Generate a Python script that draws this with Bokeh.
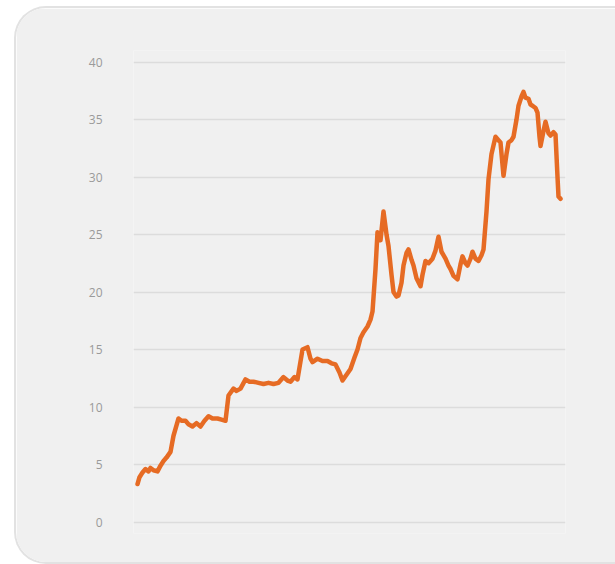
from bokeh.plotting import figure
from bokeh.models import Range1d, FixedTicker, ColumnDataSource
from bokeh.embed import file_html
from bokeh.resources import INLINE

# time index (ordinal position along the series) and values
t = [4, 6, 9, 12, 15, 17, 20, 24, 27, 30, 33, 37, 40, 43, 45, 48, 52, 55, 59, 63,
     67, 71, 75, 79, 84, 88, 92, 95, 100, 103, 107, 112, 116, 120, 125, 130, 135, 140, 145, 150,
     154, 157, 161, 164, 169, 174, 177, 179, 184, 189, 194, 198, 202, 206, 209, 213, 217, 221, 224, 227,
     230, 234, 237, 239, 242, 244, 247, 250, 253, 255, 258, 260, 263, 265, 268, 270, 273, 275, 278, 280,
     283, 287, 289, 292, 295, 299, 302, 305, 308, 312, 315, 317, 320, 324, 327, 329, 332, 334, 337, 339,
     342, 345, 348, 350, 353, 355, 358, 362, 365, 367, 370, 373, 375, 378, 380, 383, 385, 388, 390, 392,
     395, 397, 399, 402, 404, 406, 407, 410, 412, 415, 417, 420, 422, 424, 425, 427]
price = [3.3, 3.9, 4.3, 4.6, 4.4, 4.7, 4.5, 4.4, 4.9, 5.3, 5.6, 6.1, 7.5, 8.4, 9.0, 8.8, 8.8, 8.5, 8.3, 8.6,
         8.3, 8.8, 9.2, 9.0, 9.0, 8.9, 8.8, 11.0, 11.6, 11.4, 11.6, 12.4, 12.2, 12.2, 12.1, 12.0, 12.1, 12.0, 12.1, 12.6,
         12.3, 12.2, 12.6, 12.4, 15.0, 15.2, 14.2, 13.9, 14.2, 14.0, 14.0, 13.8, 13.7, 13.0, 12.3, 12.8, 13.3, 14.3, 15.0, 16.0,
         16.5, 17.0, 17.6, 18.3, 22.0, 25.2, 24.5, 27.0, 25.0, 24.0, 21.5, 20.0, 19.6, 19.7, 20.8, 22.3, 23.4, 23.7, 22.8, 22.3,
         21.2, 20.5, 21.5, 22.7, 22.5, 22.9, 23.6, 24.8, 23.5, 22.9, 22.3, 22.0, 21.4, 21.1, 22.4, 23.1, 22.5, 22.3, 22.9, 23.5,
         22.9, 22.7, 23.2, 23.7, 27.0, 29.8, 32.0, 33.5, 33.2, 33.0, 30.1, 32.0, 33.0, 33.2, 33.5, 35.0, 36.2, 37.0, 37.4, 36.9,
         36.8, 36.3, 36.2, 36.0, 35.6, 33.5, 32.7, 34.0, 34.8, 33.8, 33.6, 33.9, 33.7, 30.0, 28.3, 28.1]
y_ticks = [0, 5, 10, 15, 20, 25, 30, 35, 40]

CARD = "#f0f0f0"

p = figure(width=599, height=554, output_backend="svg", toolbar_location=None,
           x_range=Range1d(0, 432), y_range=Range1d(-1, 41),
           x_axis_location=None,
           min_border_left=117, min_border_right=50, min_border_top=42, min_border_bottom=29,
           background_fill_color=CARD, border_fill_color=CARD, outline_line_color=None)
p.margin = (8, 0, 0, 16)
p.styles = {"border-radius": "30px 0 0 30px", "overflow": "hidden",
            "box-shadow": "0 0 0 2px #e2e2e2"}

p.xgrid.visible = False
p.ygrid.grid_line_color = "#dcdcdc"
p.ygrid.grid_line_width = 1.5

p.yaxis.ticker = FixedTicker(ticks=y_ticks)
p.yaxis.axis_line_color = None
p.yaxis.major_tick_line_color = None
p.yaxis.minor_tick_line_color = None
p.yaxis.major_label_text_color = "#9a9a9a"
p.yaxis.major_label_text_font = "Open Sans"
p.yaxis.major_label_text_font_size = "12px"
p.yaxis.major_label_standoff = 25

src = ColumnDataSource(dict(t=t, price=price))
p.line("t", "price", source=src, line_color="#e66b24", line_width=4.5,
       line_join="round", line_cap="round")

open("out.html", "w").write(file_html(p, INLINE))
